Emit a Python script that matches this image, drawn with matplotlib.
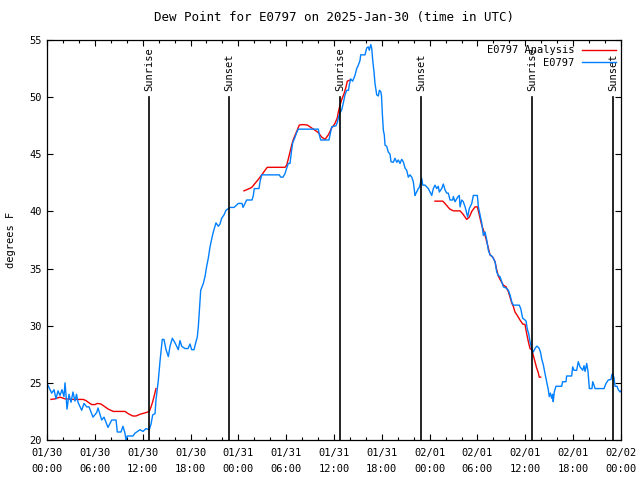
import numpy as np
import matplotlib
matplotlib.use("Agg")
import matplotlib.pyplot as plt

plt.rcParams['font.family'] = ['DejaVu Sans Mono']
plt.rcParams['font.size'] = 7.5

# hours since 2025-01-30 00:00 UTC, dew point in F
obs_hours = [0.04, 0.59, 0.88, 1.13, 1.38, 1.63, 1.88, 2.13, 2.26, 2.38, 2.51, 2.76, 3.01, 3.26,
             3.51, 3.70, 3.89, 4.35, 4.64, 4.98, 5.27, 5.77, 6.23, 6.40, 6.86, 7.15, 7.65, 8.12,
             8.66, 8.82, 9.28, 9.53, 9.78, 9.91, 10.07, 10.79, 11.04, 11.67, 12.04, 12.42, 12.83,
             13.05, 13.26, 13.55, 13.67, 13.96, 14.17, 14.46, 14.67, 14.93, 15.22, 15.43, 15.72,
             16.06, 16.47, 16.68, 16.90, 17.31, 17.69, 17.94, 18.15, 18.44, 18.65, 18.85, 18.98,
             19.10, 19.28, 19.61, 19.82, 20.03, 20.23, 20.45, 20.66, 20.86, 21.20, 21.49, 21.70,
             21.91, 22.20, 22.45, 22.96, 23.46, 24.00, 24.46, 24.59, 25.05, 25.72, 25.88, 26.00,
             26.59, 26.72, 26.93, 29.14, 29.31, 29.60, 29.85, 30.07, 30.27, 30.48, 30.69, 30.82,
             31.11, 31.32, 31.52, 34.03, 34.16, 34.33, 35.37, 35.50, 35.71, 36.25, 36.42, 36.67,
             36.97, 37.17, 37.38, 37.59, 37.82, 37.92, 38.09, 38.34, 38.51, 38.63, 38.85, 39.05,
             39.26, 39.35, 39.89, 40.10, 40.30, 40.43, 40.61, 40.73, 40.86, 41.02, 41.14, 41.36,
             41.56, 41.69, 41.86, 41.96, 42.06, 42.19, 42.31, 42.40, 42.61, 42.81, 43.03, 43.15,
             43.44, 43.65, 43.87, 44.07, 44.28, 44.49, 44.69, 44.91, 45.12, 45.32, 45.53, 45.75,
             45.95, 46.16, 46.29, 46.58, 46.70, 46.88, 47.00, 47.13, 47.42, 47.83, 48.26, 48.46,
             48.67, 48.88, 49.08, 49.21, 49.51, 49.71, 49.92, 50.14, 50.34, 50.55, 50.89, 50.97,
             51.18, 51.39, 51.56, 51.72, 51.81, 52.02, 52.22, 52.44, 52.56, 52.77, 52.97, 53.28,
             53.48, 53.98, 54.11, 54.32, 54.53, 54.73, 54.95, 55.16, 55.36, 55.57, 55.79, 55.98,
             56.20, 56.41, 56.61, 56.82, 57.04, 57.24, 57.58, 57.87, 58.08, 58.29, 58.49, 59.24,
             59.42, 59.67, 59.96, 60.09, 60.25, 60.42, 60.59, 60.80, 61.00, 61.21, 61.42, 61.50,
             61.75, 61.93, 62.05, 62.25, 62.47, 62.68, 62.88, 63.00, 63.15, 63.30, 63.43, 63.50,
             63.63, 63.84, 64.56, 64.68, 65.10, 65.18, 65.81, 65.94, 66.10, 66.44, 66.64, 66.86,
             67.20, 67.36, 67.49, 67.70, 67.86, 68.03, 68.36, 68.45, 68.61, 68.74, 69.87, 70.12,
             70.41, 70.75, 70.84, 70.97, 71.13, 71.25, 71.50, 71.66, 71.88, 72.0]
obs_dewpt = [24.9, 24.1, 24.4, 23.6, 24.3, 23.9, 24.4, 23.8, 25.0, 24.0, 22.7, 24.0, 23.3, 24.2,
             23.4, 24.0, 23.3, 22.6, 23.2, 22.9, 22.9, 22.0, 22.4, 22.8, 21.75, 22.0, 21.1, 21.75,
             21.75, 20.7, 20.7, 21.2, 20.6, 20.0, 20.35, 20.35, 20.6, 20.9, 20.75, 21.0, 20.9,
             21.4, 22.2, 22.3, 23.5, 25.2, 26.85, 28.8, 28.8, 27.9, 27.3, 28.2, 28.9,
             28.5, 27.9, 28.7, 28.2, 28.0, 28.0, 28.4, 27.9, 27.9, 28.5, 29.0, 29.9,
             31.2, 33.1, 33.7, 34.3, 35.2, 35.9, 36.9, 37.6, 38.2, 39.0, 38.7, 38.9,
             39.4, 39.7, 40.1, 40.35, 40.35, 40.7, 40.7, 40.35, 41.0, 41.0, 41.4, 42.0,
             42.0, 42.6, 43.2, 43.2, 43.0, 43.0, 43.3, 43.8, 44.2, 44.2, 45.4, 46.0,
             46.5, 46.9, 47.2, 47.2, 46.7, 46.25, 46.25, 46.7, 47.4, 47.5, 47.8, 48.5,
             48.9, 49.5, 50.2, 50.6, 50.6, 51.06, 51.6, 51.4, 51.7, 51.9, 52.5, 52.8,
             53.2, 53.7, 53.7, 54.3, 54.4, 54.1, 54.6, 54.3, 53.2, 52.2, 51.2, 50.2,
             50.1, 50.6, 50.5, 50.1, 48.6, 47.1, 46.7, 45.8, 45.7, 45.2, 45.0, 44.35,
             44.3, 44.65, 44.3, 44.5, 44.2, 44.56, 44.35, 43.8, 43.6, 43.0, 43.2, 43.0,
             42.6, 41.4, 41.6, 42.0, 42.1, 42.6, 42.9, 42.3, 42.3, 42.0, 41.4, 42.0,
             42.3, 42.0, 42.2, 41.7, 42.0, 42.4, 41.9, 41.6, 41.6, 41.0, 41.0, 41.3,
             40.85, 41.1, 41.3, 41.4, 40.4, 41.0, 40.85, 40.4, 40.1, 39.5, 40.25, 40.7,
             41.4, 41.4, 40.4, 39.7, 39.0, 37.9, 38.2, 37.5, 36.6, 36.2, 36.1, 35.9,
             35.6, 34.7, 34.4, 34.3, 33.85, 33.4, 33.3, 33.1, 32.7, 32.1, 31.8, 31.8,
             31.5, 30.65, 30.5, 30.4, 29.7, 29.3, 28.6, 28.0, 27.7, 28.0, 28.2, 28.2,
             28.0, 27.6, 27.1, 26.6, 25.8, 25.1, 24.4, 23.8, 24.1, 23.65, 24.0, 23.35,
             24.2, 24.7, 24.7, 25.1, 25.1, 25.6, 25.6, 26.4, 26.1, 26.1, 26.85, 26.4,
             26.1, 26.5, 26.0, 26.7, 26.0, 24.5, 24.5, 25.1, 24.8, 24.5, 24.5, 24.95,
             25.25, 25.3, 25.7, 25.8, 25.4, 24.7, 24.7, 24.4, 24.2, 24.3]

# analysis series, nan marks the gaps
ana_hours = [0.50, 1.00, 1.63, 2.26, 3.30, 4.55, 4.89, 5.18, 5.61, 6.02, 6.31, 6.77, 7.28, 7.69,
             8.32, 9.78, 10.20, 10.75, 11.16, 11.67, 12.42, 12.83, 13.05, 13.26, 13.46, 13.67,
             18.0,
             24.71, 25.25, 25.68, 26.09, 26.51, 26.93, 27.35, 27.63, 29.85, 30.07, 30.27, 30.48,
             30.69, 30.90, 31.32, 31.65, 32.07, 32.65, 32.99, 33.62, 34.03, 34.46, 34.87, 35.29,
             35.71, 36.12, 36.42, 36.54, 36.76, 36.97, 37.26, 37.51, 37.67, 38.01,
             43.0,
             48.67, 49.64, 49.92, 50.34, 50.55, 50.97, 51.81, 52.14, 52.44, 52.65, 52.97, 53.28,
             53.69, 53.98, 54.19, 54.32, 54.53, 54.73, 54.95, 55.16, 55.36, 55.57, 55.91, 56.20,
             56.41, 56.61, 56.82, 57.24, 57.58, 57.87, 58.08, 58.29, 58.49, 58.70, 58.99, 59.33,
             59.67, 59.96, 60.17, 60.38, 60.59, 60.80, 61.00, 61.21, 61.42, 61.62, 61.75, 61.93]
ana_dewpt = [23.55, 23.6, 23.75, 23.6, 23.55, 23.55, 23.45, 23.3, 23.1, 23.1, 23.2, 23.15, 22.9, 22.7,
             22.5, 22.5, 22.3, 22.1, 22.1, 22.25, 22.4, 22.5, 22.9, 23.35, 23.9, 24.5,
             np.nan,
             41.8, 41.96, 42.1, 42.45, 42.8, 43.2, 43.6, 43.86, 43.86, 44.06, 44.6, 45.2,
             45.8, 46.3, 47.0, 47.56, 47.6, 47.56, 47.4, 47.1, 46.9, 46.5, 46.3, 46.7,
             47.3, 47.7, 48.2, 48.7, 49.3, 49.8, 50.3, 50.9, 51.4, 51.5,
             np.nan,
             40.9, 40.9, 40.7, 40.35, 40.2, 40.05, 40.05, 39.8, 39.5, 39.3, 39.5, 40.0,
             40.4, 40.4, 39.8, 39.4, 38.8, 38.4, 37.9, 37.35, 36.8, 36.2, 36.0, 35.6,
             34.9, 34.35, 34.06, 33.56, 33.4, 32.98, 32.5, 32.0, 31.7, 31.2, 30.9, 30.5,
             30.15, 30.1, 29.3, 28.6, 28.0, 27.9, 27.4, 26.85, 26.3, 25.9, 25.5, 25.5]

sun_hours = [12.85, 22.87, 36.75, 46.91, 60.88, 71.04]
sun_labels = ['Sunrise', 'Sunset', 'Sunrise', 'Sunset', 'Sunrise', 'Sunset']

xtick_hours = [0, 6, 12, 18, 24, 30, 36, 42, 48, 54, 60, 66, 72]
xtick_labels = ['01/30\n00:00', '01/30\n06:00', '01/30\n12:00', '01/30\n18:00',
                '01/31\n00:00', '01/31\n06:00', '01/31\n12:00', '01/31\n18:00',
                '02/01\n00:00', '02/01\n06:00', '02/01\n12:00', '02/01\n18:00',
                '02/02\n00:00']

fig = plt.figure(figsize=(6.4, 4.8), dpi=100)
ax = fig.add_axes([47/640, 40/480, 574/640, 400/480])

ax.plot(ana_hours, ana_dewpt, color='#f00000', lw=1.0, label='E0797 Analysis')
ax.plot(obs_hours, obs_dewpt, color='#0080ff', lw=1.0, label='E0797')

for h, lab in zip(sun_hours, sun_labels):
    ax.plot([h, h], [20, 50], color='black', lw=1.2)
    ax.text(h, 50.5, lab, rotation=90, ha='center', va='bottom')

ax.set_xlim(0, 72)
ax.set_ylim(20, 55)
ax.set_xticks(xtick_hours)
ax.set_xticklabels(xtick_labels, linespacing=1.75)
ax.set_xticks(np.arange(0, 73, 2), minor=True)
ax.set_yticks(np.arange(20, 56, 5))
ax.tick_params(which='both', direction='in', top=True, right=True, width=0.8)
ax.tick_params(which='major', length=4)
ax.tick_params(which='minor', length=2)
ax.tick_params(axis='x', pad=6)
for s in ax.spines.values():
    s.set_linewidth(0.9)

ax.set_ylabel('degrees F', labelpad=10)
ax.set_title('Dew Point for E0797 on 2025-Jan-30 (time in UTC)', pad=14)

ax.legend(loc='upper right', frameon=False, markerfirst=False, handlelength=3.2,
          borderaxespad=0.1, labelspacing=0.25, handletextpad=0.8)

fig.savefig('out.png', dpi=100)
